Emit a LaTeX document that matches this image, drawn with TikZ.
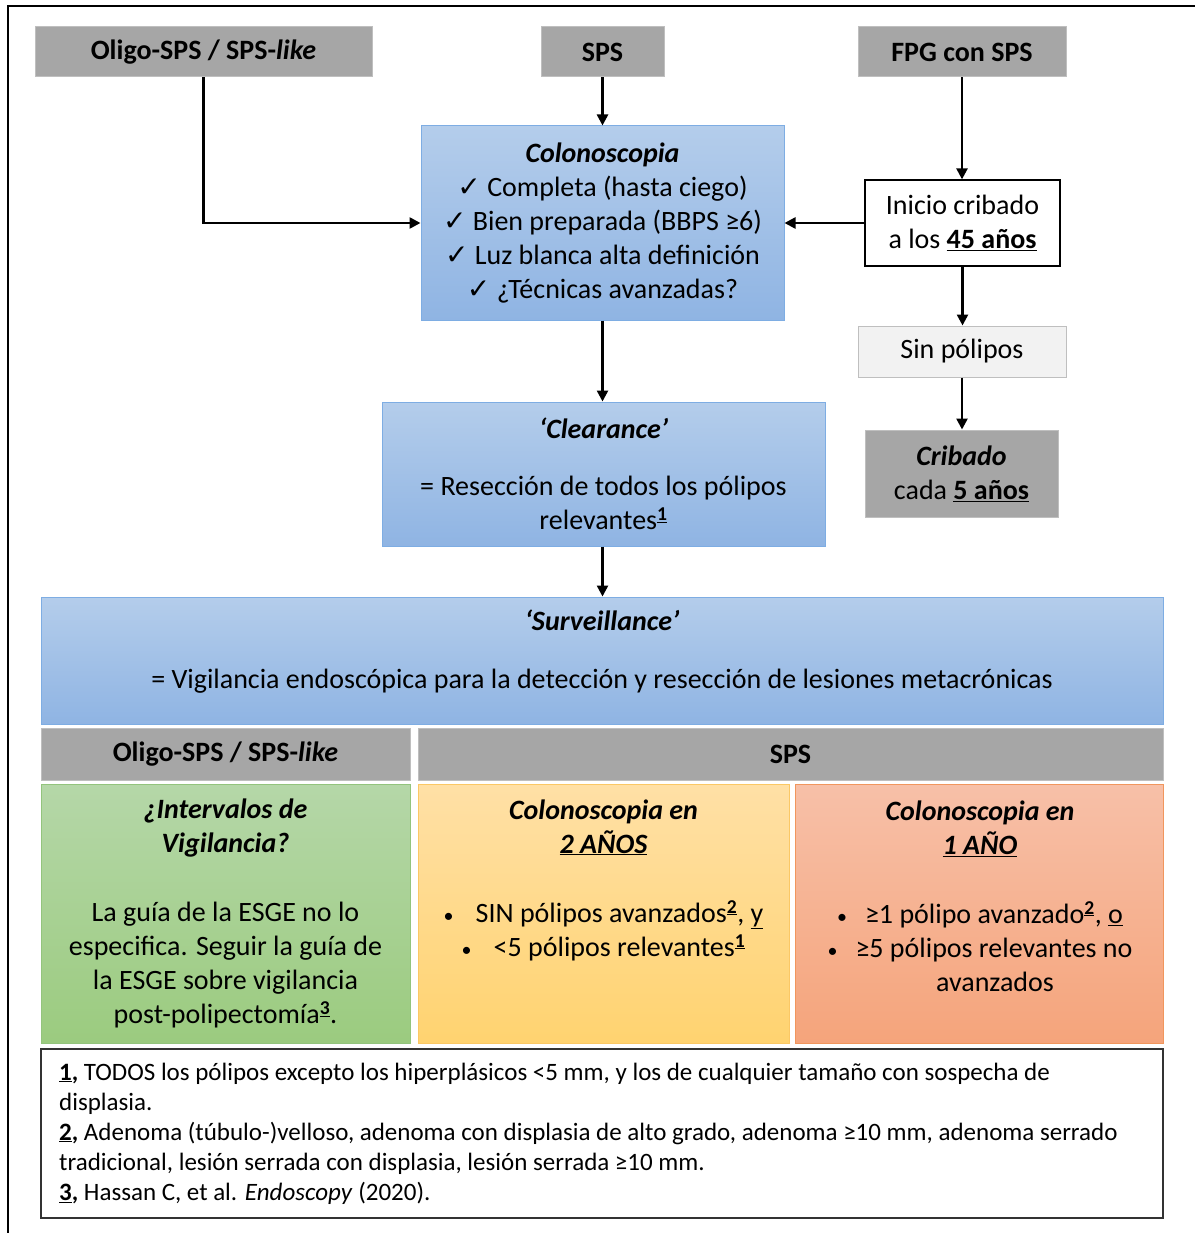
\documentclass[tikz,border=0pt]{standalone}
\usepackage{fontspec}
\setmainfont{Carlito}
\newfontfamily\symfont{DejaVu Sans}
\usetikzlibrary{arrows.meta}

\definecolor{grayfill}{HTML}{A6A6A6}
\definecolor{grayline}{HTML}{BFBFBF}
\definecolor{lightfill}{HTML}{F2F2F2}
\definecolor{bluetop}{HTML}{B4CDEB}
\definecolor{bluebot}{HTML}{8FB4E3}
\definecolor{blueline}{HTML}{7EADE3}
\definecolor{greentop}{HTML}{B5D7A8}
\definecolor{greenbot}{HTML}{9BCB7F}
\definecolor{greenline}{HTML}{93C47D}
\definecolor{yellowtop}{HTML}{FFE0A6}
\definecolor{yellowbot}{HTML}{FFD370}
\definecolor{yellowline}{HTML}{FBC865}
\definecolor{orangetop}{HTML}{F7C0A8}
\definecolor{orangebot}{HTML}{F5A47B}
\definecolor{orangeline}{HTML}{F1965D}

\newcommand{\chk}{{\symfont ✓}}
\newcommand{\supu}[1]{\textsuperscript{\textbf{\underline{#1}}}}
\newcommand{\bi}[1]{\textbf{\textit{#1}}}
\newcommand{\blt}{{\fontsize{20}{34}\selectfont •}}

\begin{document}
\begin{tikzpicture}[x=1pt,y=-1pt,
  every node/.style={font=\fontsize{28}{34}\selectfont},
  sz/.style 2 args={minimum width=#1pt, minimum height=#2pt},
  txt/.style={align=center, inner sep=0pt},
  box/.style={rectangle, inner sep=0pt, align=center, line width=1pt},
  graybox/.style={box, draw=grayline, fill=grayfill},
  whitebox/.style={box, draw=black, fill=white, line width=1.3pt},
  lightbox/.style={box, draw=grayline, fill=lightfill},
  bluebox/.style={box, draw=blueline, top color=bluetop, bottom color=bluebot},
  greenbox/.style={box, draw=greenline, top color=greentop, bottom color=greenbot},
  yellowbox/.style={box, draw=yellowline, top color=yellowtop, bottom color=yellowbot},
  orangebox/.style={box, draw=orangeline, top color=orangetop, bottom color=orangebot},
  notebox/.style={box, draw=black!80, fill=white, line width=1.3pt},
  arr/.style={line width=2.5pt, -{Triangle[length=11pt,width=11pt]}},
  frame/.style={line width=2.5pt}
]
\useasboundingbox (0,0) rectangle (1195,1233);

% outer frame (top and left edges)
\draw[frame] (8,1233) -- (8,6) -- (1195,6);

% entry groups
\node[graybox, sz={337}{50}] (oligo) at (203.5,52) {\textbf{Oligo-SPS / SPS-\textit{like}}};
\node[graybox, sz={123}{50}] (sps) at (602.5,52) {\textbf{SPS}};
\node[graybox, sz={208}{50}] (fpg) at (962,52) {\textbf{FPG con SPS}};

% colonoscopy requirements
\node[bluebox, sz={363}{194}] (colono) at (602.5,223)
  {\bi{Colonoscopia}\\
   \chk\ Completa (hasta ciego)\\
   \chk\ Bien preparada (BBPS ≥6)\\
   \chk\ Luz blanca alta definición\\
   \chk\ ¿Técnicas avanzadas?};

% family screening branch
\node[whitebox, sz={195}{86}] (inicio) at (962.5,223)
  {Inicio cribado\\a los \textbf{\underline{45 años}}};
\node[lightbox, sz={208}{51}] (sin) at (962,351.5) {Sin pólipos};
\node[graybox, sz={193}{87}] (cribado) at (961.5,473.5)
  {\bi{Cribado}\\cada \textbf{\underline{5 años}}};

% clearance
\node[bluebox, sz={443}{144}] (clear) at (603.5,474)
  {\bi{‘Clearance’}\\[23pt]
   = Resección de todos los pólipos\\
   relevantes\supu{1}};

% surveillance
\node[bluebox, sz={1122}{127}] (surv) at (602,660.5) {};
\node[txt] (survtxt) at (602,652)
  {\bi{‘Surveillance’}\\[24pt]
   = Vigilancia endoscópica para la detección y resección de lesiones metacrónicas};

% group headers
\node[graybox, sz={369}{52}] (holigo) at (225.5,754) {\textbf{Oligo-SPS / SPS-\textit{like}}};
\node[graybox, sz={745}{52}] (hsps) at (790.5,754) {\textbf{SPS}};

% surveillance intervals
\node[greenbox, sz={369}{259}] (green) at (225.5,913.5)
  {\bi{¿Intervalos de}\\
   \bi{Vigilancia?}\\[35pt]
   La guía de la ESGE no lo\\
   especifica. Seguir la guía de\\
   la ESGE sobre vigilancia\\
   post-polipectomía\supu{3}.};

\node[yellowbox, sz={371}{259}] (yellow) at (603.5,913.5) {};
\node[txt] (yellowtxt) at (603.5,880)
  {\bi{Colonoscopia en}\\
   \bi{\underline{2 AÑOS}}\\[35pt]
   \blt\hspace{22pt}SIN pólipos avanzados\supu{2}, \underline{y}\\
   \blt\hspace{22pt}<5 pólipos relevantes\supu{1}};

\node[orangebox, sz={368}{259}] (orange) at (979,913.5) {};
\node[txt] (orangetxt) at (980,896)
  {\bi{Colonoscopia en}\\
   \bi{\underline{1 AÑO}}\\[35pt]
   \blt\hspace{18pt}≥1 pólipo avanzado\supu{2}, \underline{o}\\
   \blt\hspace{18pt}≥5 pólipos relevantes no\\
   \hspace*{30pt}avanzados};

% footnotes
\node[notebox, sz={1122}{169}] (notes) at (602,1133.5) {};
\node[anchor=west, align=left, inner sep=0pt, font=\fontsize{25}{30}\selectfont] (notestxt) at (59,1133.5)
  {\textbf{\underline{1},} TODOS los pólipos excepto los hiperplásicos <5 mm, y los de cualquier tamaño con sospecha de\\
   displasia.\\
   \textbf{\underline{2},} Adenoma (túbulo-)velloso, adenoma con displasia de alto grado, adenoma ≥10 mm, adenoma serrado\\
   tradicional, lesión serrada con displasia, lesión serrada ≥10 mm.\\
   \textbf{\underline{3},} Hassan C, et al. \textit{Endoscopy} (2020).};

% connectors
\draw[arr] (oligo.south) |- (colono.west);
\draw[arr] (sps.south) -- (colono.north);
\draw[arr] (fpg.south) -- (fpg.south |- inicio.north);
\draw[arr] (inicio.west) -- (colono.east);
\draw[arr] (inicio.south) -- (inicio.south |- sin.north);
\draw[arr] (sin.south) -- (sin.south |- cribado.north);
\draw[arr] (colono.south) -- (colono.south |- clear.north);
\draw[arr] (clear.south -| colono.south) -- (colono.south |- surv.north);
\end{tikzpicture}
\end{document}
